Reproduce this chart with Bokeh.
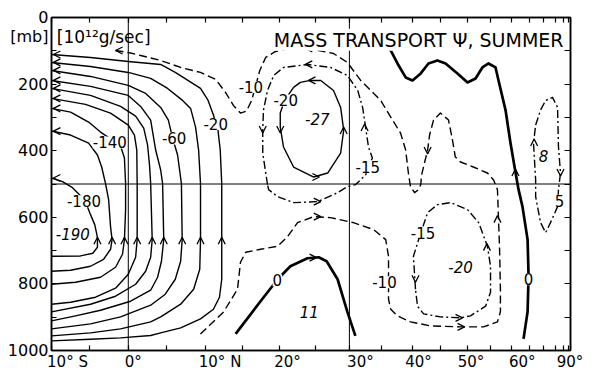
import numpy as np
from bokeh.plotting import figure
from bokeh.models import (Range1d, FixedTicker, LinearAxis, Span, Label, LabelSet,
                          ColumnDataSource, Arrow, OpenHead)
from bokeh.core.properties import value
from bokeh.embed import file_html
from bokeh.resources import INLINE

# ---------------- axes data ----------------
lat_ticks = [-10, 0, 10, 20, 30, 40, 50, 60, 90]
lat_tick_labels = ["10° S", "0°", "10° N", "20°", "30°", "40°", "50°", "60°", "90°"]
lat_minor = list(range(-10, 91, 5))
p_ticks = [0, 200, 400, 600, 800, 1000]
p_minor = list(range(0, 1001, 100))

# ---------------- stream-function contours: (latitude deg, pressure mb) ----------------
psi_m20 = [(-10,111),(-4.9,120),(0,132),(4.2,141),(6.1,165),(9.4,213),(10.4,249),(11.1,293),(11.7,338),(12.0,398),(12.2,499),(12.2,667),(12.2,786),(11.9,840),(11.1,876),(9.4,905),(6.8,932),(4.2,947),(2.9,955),(-1.0,962),(-4.9,966),(-10,971)]
psi_m40 = [(-10,135),(-4.9,147),(0,165),(2.9,183),(5.1,213),(7.05,249),(8.1,273),(8.75,329),(9.15,398),(9.4,499),(9.4,667),(9.3,756),(8.5,816),(6.8,861),(4.2,899),(2.9,914),(-1.0,935),(-4.9,947),(-10,956)]
psi_m60 = [(-10,159),(-4.9,177),(0,204),(2.25,228),(4.2,270),(5.2,308),(5.75,362),(6.4,413),(6.9,499),(7.0,667),(6.8,732),(6.1,786),(4.8,831),(2.9,864),(-1.0,899),(-4.9,920),(-10,935)]
psi_m80 = [(-10,189),(-4.9,207),(0,234),(1.6,267),(2.9,308),(3.55,398),(4.2,458),(4.45,499),(4.6,667),(4.3,732),(3.8,780),(2.9,819),(0.3,852),(-3.6,879),(-6.85,896),(-10,911)]
psi_m100 = [(-10,213),(-4.9,234),(-1.0,267),(0.95,296),(2.0,332),(2.5,383),(2.75,443),(2.9,499),(3.1,667),(2.9,720),(2.25,762),(0.95,801),(-1.65,837),(-4.9,861),(-10,884)]
psi_m120 = [(-10,243),(-5.55,261),(-2.3,287),(0,323),(0.8,353),(1.1,398),(1.15,499),(1.15,667),(0.95,720),(0,771),(-1.65,813),(-4.25,840),(-7.5,855),(-10,861)]
psi_m140 = [(-10,273),(-7.5,284),(-5.15,314),(-3.6,344),(-2.05,368),(-1.0,386),(-0.5,422),(-0.35,499),(-0.35,577),(-0.5,667),(-0.75,711),(-1.65,750),(-3.6,780),(-6.85,795),(-10,801)]
psi_m160 = [(-10,341),(-7.5,353),(-5.15,377),(-4.0,413),(-3.45,449),(-2.95,499),(-2.55,547),(-2.3,628),(-2.1,667),(-2.3,696),(-3.2,726),(-4.9,747),(-7.5,759),(-10,762)]
psi_m180 = [(-10,482),(-8.55,493),(-7.25,511),(-6.2,535),(-5.4,562),(-4.9,592),(-4.35,622),(-4.0,660),(-4.0,690),(-4.6,708),(-6.2,716),(-10,717)]
psi_m10 = [(-1.65,99),(0,105),(1.6,114),(4.2,129),(6.8,150),(9.4,165),(11.4,186),(12.7,225),(13.75,264),(14.7,287),(15.5,281),(16.2,249),(16.75,204),(17.3,159),(18.1,120),(19.45,102),(21.5,93),(23.9,93),(27.65,108),(29.7,135),(31.7,189),(34.8,249),(36.4,299),(38.0,347),(38.85,398),(39.3,467),(39.65,508),(40.35,526),(41.0,517),(41.4,502),(41.55,473),(42.05,437),(42.6,398),(42.95,353),(43.65,308),(44.9,287),(46.4,308),(47.15,368),(47.7,419),(48.7,434),(51.3,449),(54.3,467),(55.7,488),(56.6,517),(56.85,607),(57.1,696),(57.3,816),(57.3,884),(56.6,914),(53.45,929),(48.7,929),(43.1,926),(39.65,914),(37.5,896),(36.4,876),(36.05,846),(36.05,717),(35.6,667),(33.7,637),(30.6,616),(27.2,601),(24.8,598),(22.5,616),(21.1,658),(19.75,687),(17.4,696),(15.4,705),(14.7,735),(14.3,816),(12.45,884),(9.0,959)]
psi_m15a = [(18.35,502),(17.7,407),(17.7,338),(17.8,278),(18.35,219),(19.2,174),(20.55,150),(23.9,141),(27.2,150),(29.7,174),(31.25,219),(32.0,270),(32.45,329),(32.9,389),(33.5,422),(32.45,473),(30.9,502),(29.7,508),(28.25,526),(25.35,553),(21.95,556),(19.75,538),(18.5,517),(18.35,502)]
psi_m20b = [(21.95,210),(22.9,195),(24.3,189),(25.8,189),(27.65,219),(28.7,270),(29.15,338),(28.7,407),(26.8,467),(24.8,479),(21.95,449),(20.55,389),(20.1,329),(20.1,287),(20.7,249),(21.95,210)]
psi_0a = [(14.05,950),(17.4,852),(19.75,786),(21.5,747),(23.9,723),(25.5,720),(26.65,732),(28.25,786),(29.7,884),(30.9,956)]
psi_0b = [(35.75,84),(36.4,99),(37.5,138),(38.85,180),(40.0,189),(41.4,168),(42.75,138),(44.35,129),(45.85,138),(48.1,168),(50.1,195),(51.75,183),(53.2,150),(54.55,138),(56.15,150),(56.85,189),(58.55,278),(59.8,377),(61.1,464),(61.95,517),(63.05,568),(64.55,667),(64.85,777),(64.55,884),(63.35,965)]
psi_m15b = [(40.5,816),(40.15,717),(41.2,658),(42.6,586),(44.35,562),(46.8,556),(50.1,577),(52.4,616),(54.3,687),(55.0,747),(55.0,825),(53.9,867),(50.7,896),(48.7,902),(44.9,899),(41.9,890),(40.85,867),(40.5,816)]
psi_p5 = [(67.1,323),(68.8,278),(70.7,249),(73.6,240),(76.1,270),(76.6,389),(77.8,467),(76.6,517),(76.1,568),(72.7,616),(70.7,646),(68.8,616),(67.1,538),(67.1,488),(66.4,377),(67.1,323)]

# flow arrows: (lat, p, direction)
arrows = [
    (-9.75,111,"L"),(-9.75,135,"L"),(-9.75,159,"L"),(-9.75,189,"L"),(-9.75,213,"L"),
    (-9.75,243,"L"),(-9.75,273,"L"),(-9.75,341,"L"),(-9.75,482,"L"),
    (-4.0,660,"U"),(-2.1,660,"U"),(-0.5,660,"U"),(1.15,660,"U"),(3.1,660,"U"),
    (4.6,660,"U"),(7.0,660,"U"),(9.4,660,"U"),(12.2,660,"U"),
    (-1.65,99,"L"),(23.6,93,"L"),(25.8,598,"R"),(42.6,410,"D"),(56.6,595,"U"),(49.5,929,"R"),
    (17.7,347,"D"),(23.6,141,"L"),(32.3,320,"U"),(25.8,553,"R"),
    (20.1,347,"D"),(25.6,479,"R"),(29.15,329,"U"),(24.05,189,"L"),
    (25.2,721,"R"),
    (61.1,455,"U"),
    (40.5,795,"D"),(54.2,679,"U"),(49.1,902,"R"),
    (66.6,365,"U"),(77.8,476,"D"),
]

# contour value labels
label_text = ["-140", "-60", "-20", "-180", "-10", "-20", "-15", "0", "-10", "-15", "0", "5"]
label_lat = [-2.4, 5.95, 11.4, -5.75, 16.1, 20.85, 32.8, 19.7, 35.4, 41.8, 64.85, 77.2]
label_p = [375, 363, 320, 552, 209, 249, 450, 789, 795, 646, 786, 550]
extreme_text = ["-190", "-27", "11", "-20", "8"]
extreme_lat = [-7.2, 25.3, 24.15, 48.7, 69.9]
extreme_p = [649, 305, 885, 750, 417]


def sx(lat):
    return np.sin(np.radians(np.asarray(lat, dtype=float)))


FONT = "DejaVu Sans"
W, H = 595, 373
LB, RB, TB, BB = 51, 25, 17, 21
FW, FH = W - LB - RB, H - TB - BB
x0, x1 = float(sx(-10)), 1.0
px_x = (x1 - x0) / FW
px_p = 1000.0 / FH

p = figure(width=W, height=H, x_range=Range1d(x0, x1), y_range=Range1d(1000, 0),
           output_backend="svg", toolbar_location=None,
           x_axis_location=None, y_axis_location=None,
           min_border_left=LB, min_border_right=RB, min_border_top=TB, min_border_bottom=BB)
p.xgrid.visible = False
p.ygrid.visible = False
p.outline_line_color = "black"
p.outline_line_width = 1.5
p.background_fill_color = "white"
p.border_fill_color = "white"


def style_axis(ax, tick_in):
    ax.axis_line_color = "black"
    ax.axis_line_width = 1.5
    ax.major_tick_in = 0
    ax.major_tick_out = 0
    ax.minor_tick_in = tick_in
    ax.minor_tick_out = 0
    ax.minor_tick_line_color = "black"
    ax.minor_tick_line_width = 1.2
    ax.major_label_text_font = FONT
    ax.major_label_text_color = "black"


# bottom axis: tick marks every 5 deg of latitude on a sine scale
label_shift_px = [16, 5, 15, 8, 11, 6, 4, 11, -0.5]
label_pos = [round(float(sx(l)) + s * px_x, 6) for l, s in zip(lat_ticks, label_shift_px)]
minor_x = [float(v) for v in sx(lat_minor)]
xb = LinearAxis(ticker=FixedTicker(ticks=label_pos, minor_ticks=minor_x))
xb.major_label_overrides = {v: t for v, t in zip(label_pos, lat_tick_labels)}
style_axis(xb, 5)
xb.major_label_text_font_size = "15px"
xb.major_label_standoff = 2
p.add_layout(xb, "below")

xt = LinearAxis(ticker=FixedTicker(ticks=[], minor_ticks=minor_x))
style_axis(xt, 5)
xt.major_label_text_font_size = "0px"
xt.major_label_standoff = 0
p.add_layout(xt, "above")

unit_pos = 58
yl_ticks = [p_ticks[0], unit_pos] + p_ticks[1:]
yl = LinearAxis(ticker=FixedTicker(ticks=yl_ticks, minor_ticks=p_minor))
yl.major_label_overrides = {t: str(t) for t in p_ticks}
yl.major_label_overrides[unit_pos] = "[mb]"
style_axis(yl, 5)
yl.major_label_text_font_size = "16px"
yl.major_label_standoff = 3
p.add_layout(yl, "left")

yr = LinearAxis(ticker=FixedTicker(ticks=[], minor_ticks=p_minor))
style_axis(yr, 6)
yr.major_label_text_font_size = "0px"
yr.major_label_standoff = 0
p.add_layout(yr, "right")

# reference lines: equator, 30 deg, 500 mb
p.add_layout(Span(location=0.0, dimension="height", line_color="black", line_width=1))
p.add_layout(Span(location=float(sx(30)), dimension="height", line_color="black", line_width=1))
p.add_layout(Span(location=500, dimension="width", line_color="black", line_width=1))

styles = {
    "solid": dict(line_width=1.4),
    "thick": dict(line_width=2.7),
    "dash": dict(line_width=1.4, line_dash="8 4"),
    "dashdot": dict(line_width=1.4, line_dash="8 3 2 3"),
}
contours = [
    (psi_m20, "solid"), (psi_m40, "solid"), (psi_m60, "solid"), (psi_m80, "solid"),
    (psi_m100, "solid"), (psi_m120, "solid"), (psi_m140, "solid"), (psi_m160, "solid"),
    (psi_m180, "solid"), (psi_m10, "dash"), (psi_m15a, "dashdot"), (psi_m20b, "solid"),
    (psi_0a, "thick"), (psi_0b, "thick"), (psi_m15b, "dashdot"), (psi_p5, "dashdot"),
]
for pts, kind in contours:
    lat, pr = zip(*pts)
    p.line(sx(lat), list(pr), line_color="black", line_join="round", **styles[kind])

# arrows
xs_, ys_, xe_, ye_ = [], [], [], []
dx, dp = 4 * px_x, 4 * px_p
for lat, pr, d in arrows:
    x = float(sx(lat))
    if d == "L":
        s = (x + dx, pr)
    elif d == "R":
        s = (x - dx, pr)
    elif d == "U":
        s = (x, pr + dp)
    else:
        s = (x, pr - dp)
    xs_.append(s[0]); ys_.append(s[1]); xe_.append(x); ye_.append(pr)
asrc = ColumnDataSource(dict(xs=xs_, ys=ys_, xe=xe_, ye=ye_))
p.add_layout(Arrow(end=OpenHead(size=7, line_width=1.3, line_color="black"),
                   x_start="xs", y_start="ys", x_end="xe", y_end="ye",
                   source=asrc, line_alpha=0))

# contour labels
lsrc = ColumnDataSource(dict(x=sx(label_lat), y=label_p, t=label_text))
p.add_layout(LabelSet(x="x", y="y", text="t", source=lsrc, text_align="center",
                      text_baseline="middle", text_font=value(FONT), text_font_size="15px",
                      text_color="black", background_fill_color="white"))
esrc = ColumnDataSource(dict(x=sx(extreme_lat), y=extreme_p, t=extreme_text))
p.add_layout(LabelSet(x="x", y="y", text="t", source=esrc, text_align="center",
                      text_baseline="middle", text_font=value(FONT), text_font_size="15px",
                      text_font_style="italic", text_color="black"))

# title and unit
p.add_layout(Label(x=float(sx(79.8)), y=67, text="MASS TRANSPORT Ψ, SUMMER",
                   text_align="right", text_baseline="alphabetic", text_font=FONT,
                   text_font_size="19px", text_color="black", background_fill_color="white"))
p.add_layout(Label(x=float(sx(-9.3)), y=58, text="[10¹²g/sec]", text_align="left",
                   text_baseline="middle", text_font=FONT, text_font_size="17px",
                   text_color="black"))

open("out.html", "w").write(file_html(p, INLINE))
